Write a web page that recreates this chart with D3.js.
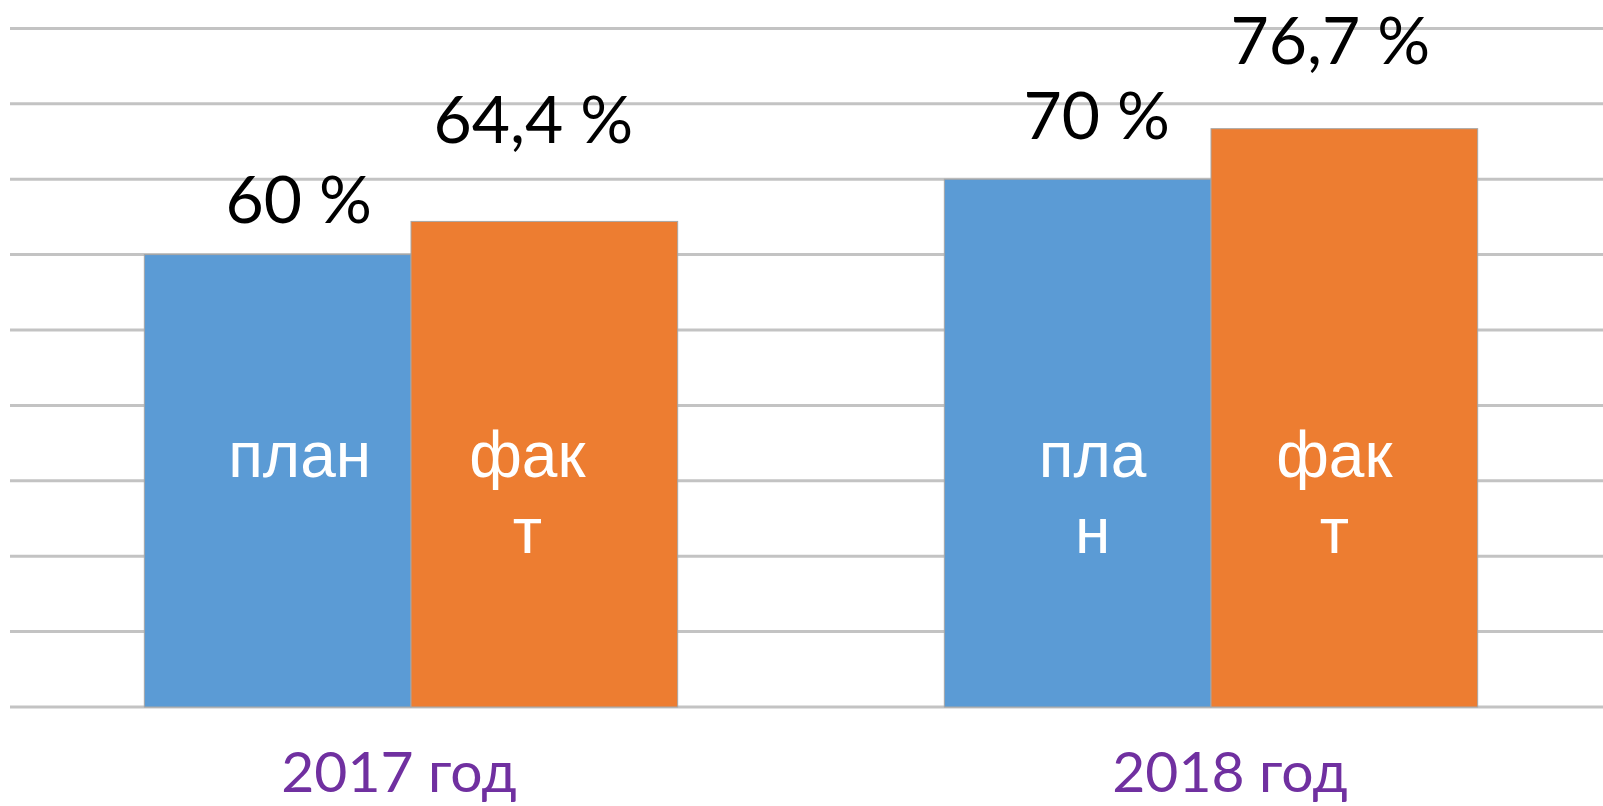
<!DOCTYPE html>
<html>
<head>
<meta charset="utf-8">
<script src="https://cdn.jsdelivr.net/npm/d3@7"></script>
<style>
  html, body { margin: 0; padding: 0; background: #fff; }
  svg { display: block; }
</style>
</head>
<body>
<svg width="1603" height="806"></svg>
<script>
// data
const categories = ['2017 год', '2018 год'];
const series = ['план', 'факт'];
const planValues = [60, 70];
const factValues = [64.4, 76.7];
const valueLabels = [['60 %', '64,4 %'], ['70 %', '76,7 %']];
// text inside bars, already wrapped like in the picture
const innerLines = [[['план'], ['фак', 'т']], [['пла', 'н'], ['фак', 'т']]];
const gridTicks = d3.range(0, 100, 10);

// hand-placed labels in the original, so small nudges
const topNudge = [[{ dx: 21, dy: -32 }, { dx: -11, dy: -78 }], [{ dx: 19, dy: -40 }, { dx: -14, dy: -65 }]];
const innerNudge = [[22, -17], [15, -10]];
const catNudge = [-12, 19];

const colors = { 'план': '#5B9BD5', 'факт': '#ED7D31' };

const svg = d3.select('svg');
const baseY = 707;

const y = d3.scaleLinear().domain([0, 90]).range([baseY, 28.4]);
const x0 = d3.scaleBand().domain(categories).range([11, 1611]);
const x1 = d3.scaleBand().domain(series).range([0, x0.bandwidth()]).paddingInner(0).paddingOuter(0.5);

// gridlines
svg.append('g')
  .selectAll('line')
  .data(gridTicks)
  .join('line')
  .attr('x1', 10)
  .attr('x2', 1603)
  .attr('y1', d => y(d))
  .attr('y2', d => y(d))
  .attr('stroke', '#c3c3c3')
  .attr('stroke-width', 3);

const rows = categories.map((c, i) => ({
  cat: c, i,
  bars: [
    { s: 'план', v: planValues[i], j: 0 },
    { s: 'факт', v: factValues[i], j: 1 }
  ]
}));

const groups = svg.append('g')
  .selectAll('g')
  .data(rows)
  .join('g')
  .attr('transform', d => `translate(${x0(d.cat)},0)`);

groups.selectAll('rect')
  .data(d => d.bars)
  .join('rect')
  .attr('x', d => x1(d.s))
  .attr('y', d => y(d.v))
  .attr('width', x1.bandwidth())
  .attr('height', d => baseY - y(d.v))
  .attr('fill', d => colors[d.s])
  .attr('stroke', '#a6a6a6')
  .attr('stroke-width', 1);

// value labels above bars + text inside bars
groups.each(function(row) {
  const g = d3.select(this);
  row.bars.forEach(b => {
    const n = topNudge[row.i][b.j];
    g.append('text')
      .attr('x', x1(b.s) + x1.bandwidth() / 2 + n.dx)
      .attr('y', y(b.v) + n.dy)
      .attr('text-anchor', 'middle')
      .attr('font-family', 'Lato, "Open Sans", sans-serif')
      .attr('font-size', 66)
      .attr('fill', '#000')
      .text(valueLabels[row.i][b.j]);

    const lines = innerLines[row.i][b.j];
    const t = g.append('text')
      .attr('text-anchor', 'middle')
      .attr('font-family', '"Liberation Sans", Arial, sans-serif')
      .attr('font-size', 64)
      .attr('fill', '#fff');
    lines.forEach((ln, k) => {
      t.append('tspan')
        .attr('x', x1(b.s) + x1.bandwidth() / 2 + innerNudge[row.i][b.j])
        .attr('y', y(30) - 4 + k * 76)
        .text(ln);
    });
  });
});

// category labels
svg.append('g')
  .selectAll('text')
  .data(categories)
  .join('text')
  .attr('x', (d, i) => x0(d) + x0.bandwidth() / 2 + catNudge[i])
  .attr('y', 792)
  .attr('text-anchor', 'middle')
  .attr('font-family', 'Lato, "Open Sans", sans-serif')
  .attr('font-size', 57)
  .attr('fill', '#7030A0')
  .text(d => d);
</script>
</body>
</html>
